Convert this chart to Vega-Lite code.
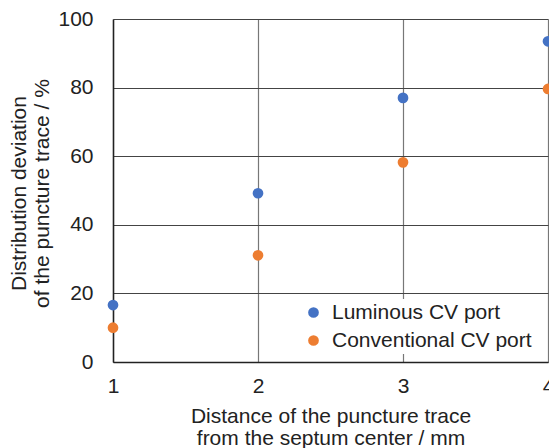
{
  "$schema": "https://vega.github.io/schema/vega-lite/v6.json",
  "autosize": "none",
  "width": 435,
  "height": 343,
  "padding": {"left": 113, "top": 19, "right": 1, "bottom": 86},
  "background": "white",
  "config": {
    "font": "Liberation Sans",
    "view": {"stroke": null},
    "axis": {
      "labelFont": "Liberation Sans",
      "titleFont": "Liberation Sans",
      "labelFontSize": 21,
      "titleFontSize": 21,
      "labelColor": "#222222",
      "titleColor": "#222222",
      "titleFontWeight": "normal",
      "ticks": false,
      "domainColor": "#222222",
      "domainWidth": 1.5,
      "gridWidth": 1.2
    },
    "legend": {
      "labelFont": "Liberation Sans",
      "labelFontSize": 21,
      "labelColor": "#222222"
    }
  },
  "data": {
    "values": [
      {"distance": 1, "deviation": 16.6, "port": "Luminous CV port"},
      {"distance": 2, "deviation": 49.2, "port": "Luminous CV port"},
      {"distance": 3, "deviation": 77.0, "port": "Luminous CV port"},
      {"distance": 4, "deviation": 93.5, "port": "Luminous CV port"},
      {"distance": 1, "deviation": 10.0, "port": "Conventional CV port"},
      {"distance": 2, "deviation": 31.1, "port": "Conventional CV port"},
      {"distance": 3, "deviation": 58.2, "port": "Conventional CV port"},
      {"distance": 4, "deviation": 79.6, "port": "Conventional CV port"}
    ]
  },
  "mark": {"type": "point", "filled": true, "opacity": 1, "size": 115, "shape": "circle"},
  "encoding": {
    "x": {
      "field": "distance",
      "type": "quantitative",
      "scale": {"domain": [1, 4], "nice": false, "zero": false},
      "axis": {
        "values": [1, 2, 3, 4],
        "format": "d",
        "labelFlush": false,
        "gridColor": "#777777",
        "labelPadding": 13,
        "title": ["Distance of the puncture trace", "from the septum center / mm"],
        "titleLineHeight": 22,
        "titleBaseline": "middle",
        "titleY": 54,
        "zindex": 0
      }
    },
    "y": {
      "field": "deviation",
      "type": "quantitative",
      "scale": {"domain": [0, 100], "nice": false},
      "axis": {
        "values": [0, 20, 40, 60, 80, 100],
        "labelFlush": false,
        "gridColor": "#444444",
        "labelPadding": 20,
        "title": ["Distribution deviation", "of the puncture trace / %"],
        "titleLineHeight": 23,
        "titleAngle": -90,
        "titleAlign": "center",
        "titleBaseline": "middle",
        "titleX": -94,
        "titleY": 174,
        "zindex": 0
      }
    },
    "color": {
      "field": "port",
      "type": "nominal",
      "scale": {"domain": ["Luminous CV port", "Conventional CV port"], "range": ["#4472C4", "#ED7D31"]},
      "legend": {
        "title": null,
        "orient": "none",
        "legendX": 187,
        "legendY": 280,
        "padding": 3,
        "fillColor": "white",
        "strokeColor": null,
        "symbolType": "circle",
        "symbolSize": 115,
        "symbolStrokeWidth": 0,
        "symbolOpacity": 1,
        "labelOffset": 8,
        "labelLimit": 400,
        "rowPadding": 6
      }
    }
  }
}
